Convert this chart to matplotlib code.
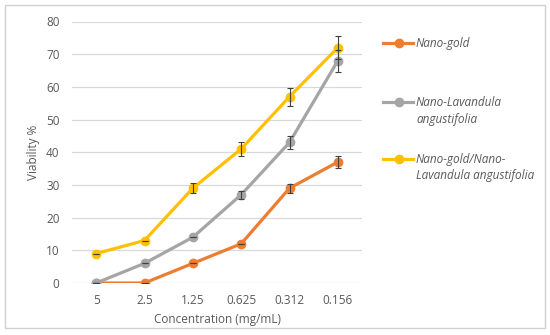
import numpy as np
import matplotlib
matplotlib.use('Agg')
import matplotlib.pyplot as plt
from matplotlib.patches import Rectangle
from matplotlib.lines import Line2D

plt.rcParams['font.family'] = ['Open Sans', 'DejaVu Sans']

conc = ['5', '2.5', '1.25', '0.625', '0.312', '0.156']
gold = [0, 0, 6, 12, 29, 37]
gold_err = [0, 0, 0, 0, 1.4, 1.8]
lav = [0, 6, 14, 27, 43, 68]
lav_err = [0, 0, 0, 1.2, 2.1, 3.4]
combo = [9, 13, 29, 41, 57, 72]
combo_err = [0, 0, 1.5, 2.0, 2.8, 3.6]

labels = [['Nano-gold'], ['Nano-Lavandula', 'angustifolia'],
          ['Nano-gold/Nano-', 'Lavandula angustifolia']]
colors = ['#ED7D31', '#A5A5A5', '#FFC000']
txt = '#595959'
W, H = 550, 335

fig = plt.figure(figsize=(5.5, 3.35), dpi=100)
fig.patches.append(Rectangle((5 / W, 1 - 328 / H), 540 / W, 323 / H, transform=fig.transFigure,
                             fill=False, edgecolor='#D0D0D0', linewidth=1))
ax = fig.add_axes([72 / W, 1 - 283 / H, 290 / W, 261.5 / H])

x = np.arange(len(conc))
series = [(gold, gold_err), (lav, lav_err), (combo, combo_err)]
for (y, e), c in zip(series, colors):
    ax.plot(x, y, color=c, lw=2.3, marker='o', ms=6, zorder=3)
    ax.errorbar(x, y, yerr=e, fmt='none', ecolor='#404040', elinewidth=0.8,
                capsize=2.5, capthick=0.8, zorder=4)

ax.set_xlim(-0.5, 5.5)
ax.set_ylim(0, 80)
ax.set_yticks(range(0, 81, 10))
ax.set_xticks(x)
ax.set_xticklabels(conc)
for s in ax.spines.values():
    s.set_visible(False)
ax.grid(axis='y', color='#D9D9D9', lw=0.9, zorder=0)
ax.tick_params(length=0, labelsize=8.5, colors=txt)
ax.tick_params(axis='y', pad=9)
ax.tick_params(axis='x', pad=8)
ax.set_xlabel('Concentration (mg/mL)', fontsize=8.5, color=txt, labelpad=4)
ax.set_ylabel('Viability %', fontsize=8.5, color=txt, labelpad=4)

# legend drawn by hand to match the wrapped entries
leg_y = [43, 102, 159]
for c, lines, ly in zip(colors, labels, leg_y):
    fy = 1 - ly / H
    fig.add_artist(Line2D([383 / W, 413 / W], [fy, fy], color=c, lw=2.3,
                          transform=fig.transFigure))
    fig.add_artist(Line2D([399 / W], [fy], color=c, marker='o', ms=6,
                          transform=fig.transFigure))
    for i, t in enumerate(lines):
        fig.text(416 / W, 1 - (ly + 17 * i) / H, t, fontsize=8.5, color=txt,
                 style='italic', va='center', ha='left')

fig.savefig('out.png', dpi=100)
